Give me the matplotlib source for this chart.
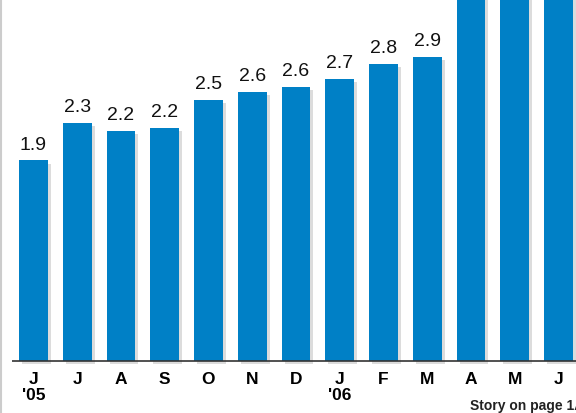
import matplotlib.pyplot as plt

months = ['J', 'J', 'A', 'S', 'O', 'N', 'D', 'J', 'F', 'M', 'A', 'M', 'J']
years = ["'05", '', '', '', '', '', '', "'06", '', '', '', '', '']
values = [1.91, 2.27, 2.19, 2.22, 2.49, 2.56, 2.61, 2.69, 2.83, 2.90, 3.6, 3.7, 3.7]
shown = [True] * 10 + [False] * 3

blue = '#0080c6'

fig = plt.figure(figsize=(5.76, 4.13), dpi=100)
ax = fig.add_axes([12 / 576, (413 - 364) / 413, 1 - 12 / 576, 364 / 413])

x = list(range(len(values)))
# shadows
ax.bar([i + 0.07 for i in x], values, width=0.66, bottom=-0.03, color='#dcdcdc', zorder=1)
ax.bar(x, values, width=0.66, color=blue, zorder=2)
ax.axhline(0, color='#333333', lw=1.2, zorder=3)

for i, v in enumerate(values):
    if shown[i]:
        ax.text(i, v + 0.065, f'{v:.1f}', ha='center', va='bottom', fontsize=14,
                family='Liberation Sans', color='#111111')

ax.set_xlim(-0.491, 12.4)
ax.set_ylim(-0.03, 3.44)
ax.set_xticks(x)
ax.set_xticklabels([m + ('\n' + y if y else '') for m, y in zip(months, years)],
                   fontsize=12.5, fontweight='bold', family='Liberation Sans',
                   linespacing=1.05)
for lab in ax.get_xticklabels():
    lab.set_verticalalignment('top')
ax.tick_params(axis='x', length=0, pad=6)
ax.set_yticks([])
for s in ax.spines.values():
    s.set_visible(False)

fig.add_artist(plt.Line2D([0.001, 0.001], [0, 1], color='#cccccc', lw=1.5))
fig.text(470 / 576, 1 - 406 / 413, 'Story on page 1A', fontsize=10, fontweight='bold',
         family='Liberation Sans', va='center', ha='left', color='#222222')

fig.savefig('out.png', dpi=100)
